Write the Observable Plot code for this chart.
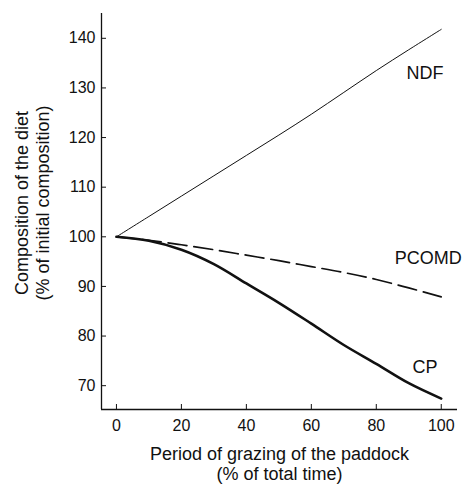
<!DOCTYPE html>
<html>
<head>
<meta charset="utf-8">
<script src="https://cdn.jsdelivr.net/npm/d3@7"></script>
<script src="https://cdn.jsdelivr.net/npm/@observablehq/plot@0.6"></script>
<style>
  html, body { margin: 0; padding: 0; background: #fff; }
  svg { display: block; }
</style>
</head>
<body>
<div id="chart"></div>
<script>
// ---- data ----
const period = [0, 10, 20, 30, 40, 50, 60, 70, 80, 90, 100];
const ndf    = [100, 104.1, 108.2, 112.3, 116.4, 120.5, 124.7, 129.1, 133.5, 137.7, 141.8];
const pcomd  = [100, 99.3, 98.4, 97.4, 96.3, 95.2, 94.0, 92.8, 91.4, 89.7, 87.9];
const cp     = [100, 99.2, 97.4, 94.5, 90.6, 86.7, 82.5, 78.2, 74.4, 70.5, 67.4];

const seriesNames = ["NDF", "PCOMD", "CP"];
const labelX = [95, 96, 95];
const labelY = [133, 95.7, 73.7];

const xTicks = [0, 20, 40, 60, 80, 100];
const yTicks = [70, 80, 90, 100, 110, 120, 130, 140];
const xDomain = [-4.6, 105];
const yDomain = [65.2, 145];

const xTitle = "Period of grazing of the paddock\n(% of total time)";
const yTitle = "Composition of the diet\n(% of initial composition)";

// ---- build ----
const toRows = (vals, name) => period.map((p, i) => ({period: p, value: vals[i], series: name}));
const rowsNDF = toRows(ndf, "NDF");
const rowsPCOMD = toRows(pcomd, "PCOMD");
const rowsCP = toRows(cp, "CP");
const labels = seriesNames.map((s, i) => ({name: s, x: labelX[i], y: labelY[i]}));

const ink = "#111";
const font = "'Liberation Sans', Arial, Helvetica, sans-serif";

const chart = Plot.plot({
  width: 464,
  height: 493,
  marginLeft: 101,
  marginRight: 7,
  marginTop: 13,
  marginBottom: 84,
  style: {fontFamily: font, color: ink, background: "#fff", overflow: "visible"},
  x: {domain: xDomain},
  y: {domain: yDomain},
  marks: [
    Plot.ruleX([xDomain[0]], {stroke: ink, strokeWidth: 1.3}),
    Plot.ruleY([yDomain[0]], {stroke: ink, strokeWidth: 1.3, x1: xDomain[0], x2: xDomain[1]}),
    Plot.axisX({ticks: xTicks, tickSize: -5, tickPadding: 15, fontSize: 16, label: null, stroke: ink, fill: ink}),
    Plot.axisY({ticks: yTicks, tickSize: -5, tickPadding: 11, fontSize: 16, label: null, stroke: ink, fill: ink}),
    Plot.line(rowsNDF, {x: "period", y: "value", stroke: ink, strokeWidth: 1, curve: "catmull-rom"}),
    Plot.line(rowsPCOMD, {x: "period", y: "value", stroke: ink, strokeWidth: 1.7, strokeDasharray: "19,7", curve: "catmull-rom"}),
    Plot.line(rowsCP, {x: "period", y: "value", stroke: ink, strokeWidth: 2.6, curve: "catmull-rom"}),
    Plot.text(labels, {x: "x", y: "y", text: "name", fontSize: 18, fill: ink, textAnchor: "middle"}),
    Plot.text([xTitle], {text: d => d, frameAnchor: "bottom", textAnchor: "middle", lineAnchor: "middle", dy: 54, fontSize: 18, lineHeight: 1.1, fill: ink}),
    Plot.text([yTitle], {text: d => d, frameAnchor: "left", textAnchor: "middle", lineAnchor: "middle", dx: -70, dy: -8.5, rotate: -90, fontSize: 18, lineHeight: 1.2, fill: ink})
  ]
});

document.getElementById("chart").appendChild(chart);
</script>
</body>
</html>
